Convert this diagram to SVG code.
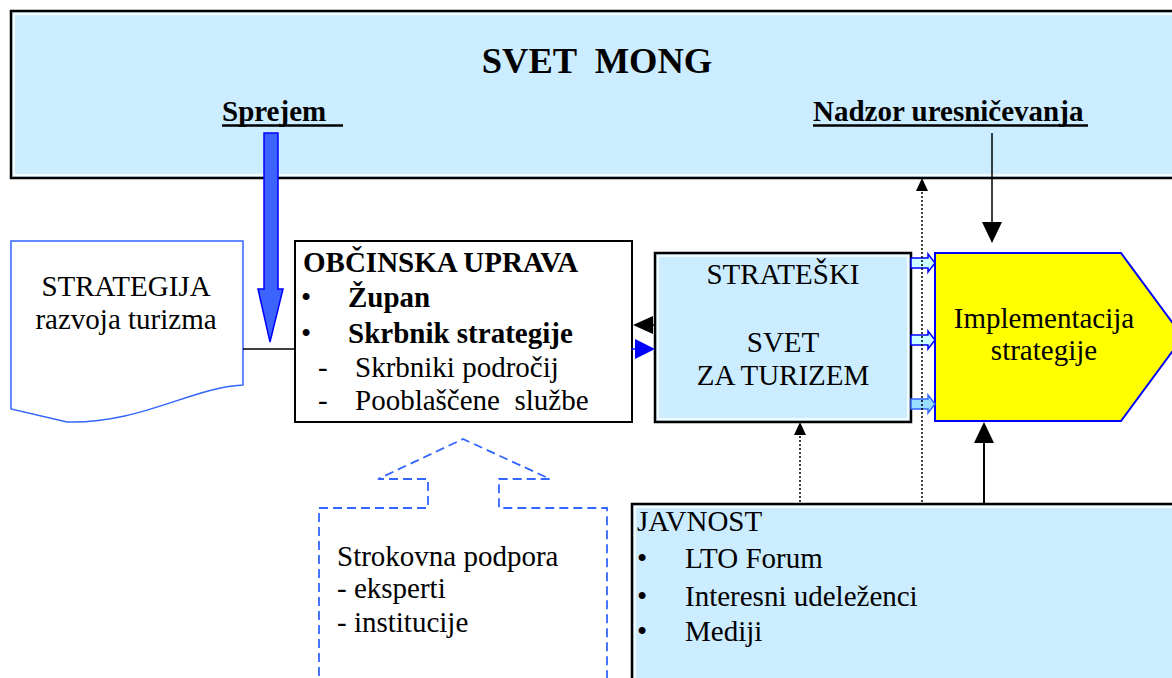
<svg xmlns="http://www.w3.org/2000/svg" width="1172" height="678" viewBox="0 0 1172 678">
<style>
text{font-family:'Liberation Serif','DejaVu Serif',serif;font-size:29px;fill:#000}
.b{font-weight:bold}
.title{font-size:36.5px}
.box{fill:#CCECFF;stroke:#000;stroke-width:2.5}
.inner{fill:none;stroke:#fff;stroke-width:1.5}
</style>
<rect width="1172" height="678" fill="#fff"/>
<g id="svet-mong">
<rect class="box" x="11" y="11" width="1200" height="167"/>
<rect class="inner" x="14" y="14" width="1194" height="161"/>
<text class="b title" x="597" y="73" text-anchor="middle" xml:space="preserve">SVET  MONG</text>
<text class="b" x="222" y="121">Sprejem</text>
<line x1="222" y1="125.5" x2="343" y2="125.5" stroke="#000" stroke-width="2.5"/>
<text class="b" x="813" y="121">Nadzor uresničevanja</text>
<line x1="813" y1="125.5" x2="1088" y2="125.5" stroke="#000" stroke-width="2.5"/>
</g>
<g id="strategija">
<path d="M11,241 H243 V385 C190,388 140,424 67,422 L11,409 Z" fill="#fff" stroke="#3366FF" stroke-width="1.5"/>
<text x="126" y="296" text-anchor="middle">STRATEGIJA</text>
<text x="126" y="329" text-anchor="middle">razvoja turizma</text>
</g>
<g id="obcinska-uprava">
<rect x="295" y="241" width="337" height="181" fill="#fff" stroke="#000" stroke-width="2"/>
<text class="b" x="303" y="272">OBČINSKA UPRAVA</text>
<text x="301" y="307">•</text>
<text class="b" x="348" y="307">Župan</text>
<text x="301" y="343">•</text>
<text class="b" x="348" y="343">Skrbnik strategije</text>
<text x="318" y="377">-</text>
<text x="355" y="377">Skrbniki področij</text>
<text x="318" y="410">-</text>
<text x="355" y="410" xml:space="preserve">Pooblaščene  službe</text>
</g>
<g id="strateski-svet">
<rect class="box" x="655" y="253" width="256" height="169"/>
<rect class="inner" x="658" y="256" width="250" height="163"/>
<text x="783" y="284" text-anchor="middle">STRATEŠKI</text>
<text x="783" y="352" text-anchor="middle">SVET</text>
<text x="783" y="385" text-anchor="middle">ZA TURIZEM</text>
</g>
<g id="implementacija">
<path d="M935,253 H1121 L1183,337 L1121,421 H935 Z" fill="#FFFF00" stroke="#0000FF" stroke-width="2"/>
<text x="1044" y="328" text-anchor="middle">Implementacija</text>
<text x="1044" y="360" text-anchor="middle">strategije</text>
</g>
<g id="javnost">
<rect class="box" x="632" y="504" width="600" height="220"/>
<rect class="inner" x="635" y="507" width="594" height="214"/>
<text x="637" y="531">JAVNOST</text>
<text x="637" y="568">•</text>
<text x="685" y="568">LTO Forum</text>
<text x="637" y="606">•</text>
<text x="685" y="606">Interesni udeleženci</text>
<text x="637" y="641">•</text>
<text x="685" y="641">Mediji</text>
</g>
<g id="strokovna-podpora">
<path d="M319,690 V508 H428 V479 H378 L463,439 L550,479 H499 V508 H607 V690" fill="none" stroke="#3366FF" stroke-width="1.8" stroke-dasharray="9,5"/>
<text x="337" y="566">Strokovna podpora</text>
<text x="337" y="598">- eksperti</text>
<text x="337" y="632">- institucije</text>
</g>
<g id="connectors">
<path d="M264,133 H278 V289 H283 L270,342 L258,289 H264 Z" fill="#3D63FF" stroke="#0000FF" stroke-width="1.5"/>
<line x1="243" y1="349" x2="295" y2="349" stroke="#000" stroke-width="1.5"/>
<line x1="650" y1="325" x2="655" y2="325" stroke="#000" stroke-width="1.5"/>
<path d="M633,325 L653,316 V334 Z" fill="#000"/>
<line x1="631" y1="349" x2="637" y2="349" stroke="#0000FF" stroke-width="1.5"/>
<path d="M655,349 L635,339 V359 Z" fill="#0000FF"/>
<path d="M911,258 H928 V254 L935,263 L928,272 V268 H911 Z" fill="#CCFFFF" stroke="#0000FF" stroke-width="1.5"/>
<path d="M911,335 H928 V331 L935,340 L928,349 V345 H911 Z" fill="#CCFFFF" stroke="#0000FF" stroke-width="1.5"/>
<path d="M911,399 H928 V395 L935,404 L928,413 V409 H911 Z" fill="#99DDFF" stroke="#3366FF" stroke-width="1.5"/>
<line x1="922" y1="188" x2="922" y2="504" stroke="#000" stroke-width="1.5" stroke-dasharray="2,2"/>
<path d="M922,178 L928,191 H916 Z" fill="#000"/>
<line x1="992" y1="133" x2="992" y2="225" stroke="#000" stroke-width="1.5"/>
<path d="M992,243 L982,222 H1002 Z" fill="#000"/>
<line x1="800" y1="432" x2="800" y2="504" stroke="#000" stroke-width="1.5" stroke-dasharray="2,2"/>
<path d="M800,422 L806,435 H794 Z" fill="#000"/>
<line x1="984" y1="440" x2="984" y2="504" stroke="#000" stroke-width="2"/>
<path d="M984,422 L994,443 H974 Z" fill="#000"/>
</g>
</svg>
